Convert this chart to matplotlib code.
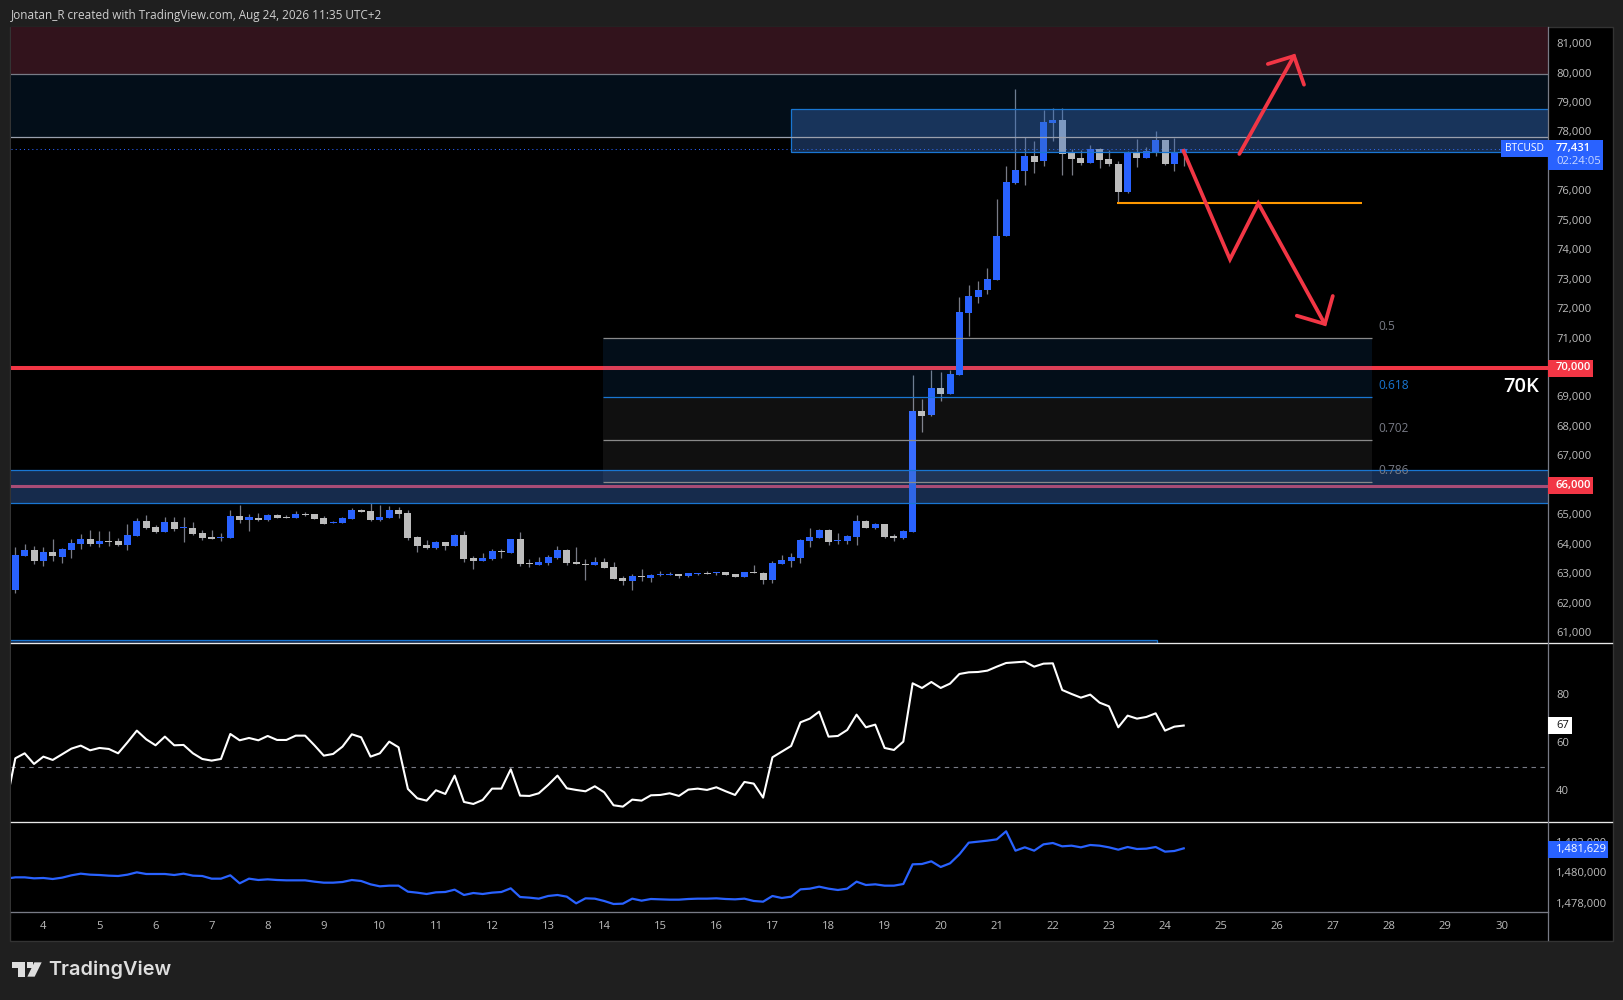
import numpy as np
import matplotlib
matplotlib.use("Agg")
import matplotlib.pyplot as plt
from matplotlib.patches import Rectangle, Polygon
from matplotlib.lines import Line2D
from matplotlib.transforms import ScaledTranslation

plt.rcParams['font.family'] = ['Open Sans', 'DejaVu Sans']

# ---------- data ----------
highs = [63910,64020,63940,63910,64190,63880,64190,64360,64500,64470,64470,64230,64700,64910,65010,64670,64940,64940,64940,64770,
 64500,64500,64400,65180,65350,65040,65080,65040,65040,65010,65140,65110,65040,64970,64800,64940,65250,65210,65400,65350,
 65310,65280,65180,64300,64160,64130,64090,64360,64470,63620,63720,63850,63850,64190,64430,63510,63580,63650,63950,63850,
 63920,63510,63580,63550,63410,62940,63000,63170,63000,63110,63070,63000,63040,63040,63110,63070,63070,63000,63070,63310,
 63070,63450,63650,63720,64190,64570,64530,64530,64400,64330,65010,64840,64740,64700,64360,64500,69760,68950,69930,69860,
 69930,72410,72820,72950,73400,75740,76860,79470,77860,77710,78760,78830,78830,77440,77400,77570,77470,77400,77030,77370,
 77780,77500,78050,77740,77810,77470]
lows = [62370,63620,63350,63280,63450,63380,63550,63850,63950,63920,63950,63950,63820,64300,64530,64400,64430,64470,64090,64330,
 64160,64190,64130,64230,64740,64470,64800,64800,64910,64910,64910,64970,64870,64700,64740,64740,64870,65110,64800,64800,
 64910,64910,64160,63750,63850,63850,63820,63950,63410,63170,63450,63480,63550,63720,63280,63240,63310,63310,63510,63310,
 63340,62800,63310,63210,62830,62630,62460,62770,62730,62940,62970,62870,62900,62970,63000,62970,62970,62900,62900,63040,
 62660,62700,63340,63240,63380,63920,64230,63990,64020,64020,63990,64570,64530,64230,64130,64190,64430,67830,68370,68880,
 69120,69760,71090,72210,72510,72990,74480,76250,76210,76620,76860,77710,76550,76550,76890,76960,76790,76860,75600,75940,
 76820,77130,77200,76890,76690,76860]
opens = [62470,63620,63820,63450,63750,63580,63820,64020,64190,64020,64130,64130,63990,64300,64800,64600,64430,64770,64570,64570,
 64400,64260,64230,64230,64970,64840,64910,64840,65010,64940,64910,65040,65040,64910,64740,64740,64870,65180,65140,64840,
 64910,65180,65080,64260,63990,63890,64090,63950,64330,63550,63450,63510,63790,63720,64190,63380,63310,63380,63550,63820,
 63410,63340,63310,63410,63240,62870,62770,62940,62870,62970,62970,63000,62940,63000,63040,63040,63070,63000,62900,63070,
 63040,62800,63340,63450,63550,64130,64230,64500,64130,64130,64260,64800,64570,64700,64300,64230,64430,68540,68400,69320,
 69120,69760,71870,72410,72650,72990,74480,76280,76690,77200,77030,78320,78420,77300,77130,76960,77440,77100,76930,75980,
 77300,77130,77330,77740,76930,77330]
closes = [63650,63820,63450,63750,63620,63850,64060,64190,64020,64130,64090,63990,64330,64800,64570,64430,64770,64530,64600,64360,
 64230,64190,64260,64970,64840,64940,64840,65010,64910,64910,65040,65010,64870,64700,64770,64910,65180,65110,64840,64940,
 65180,65040,64230,63960,63890,64090,63950,64330,63510,63450,63550,63790,63750,64190,63340,63340,63410,63580,63820,63380,
 63340,63310,63410,63210,62830,62770,62940,62900,62970,63000,63000,62940,63040,63040,63000,63070,62970,62900,63070,63040,
 62800,63380,63480,63580,64160,64260,64500,64090,64160,64300,64800,64570,64700,64260,64230,64470,68540,68370,69320,69120,
 69800,71900,72440,72650,73020,74480,76320,76720,77200,76990,78350,78420,77270,77100,76960,77440,77060,76930,75980,77300,
 77130,77370,77740,76930,77300,77431]

rsi = [34.3,53.75,55.83,51.39,54.44,53.06,55.42,57.78,59.03,57.08,58.06,57.64,55.83,60.42,65.28,61.67,59.17,62.78,59.17,59.31,
 55.83,53.47,52.78,53.47,63.89,61.25,62.22,61.25,63.06,61.39,61.39,63.19,63.19,59.17,54.86,55.56,58.61,63.75,62.5,54.44,
 55.83,60.69,58.33,40.97,37.08,36.11,40.42,38.89,46.53,35.56,34.72,36.39,41.11,41.11,49.17,38.19,38.06,39.17,42.64,46.53,
 41.25,40.56,40.0,42.08,39.58,34.17,33.61,36.53,36.11,38.33,38.47,39.17,38.06,40.69,41.11,40.56,41.67,40.0,38.47,43.89,
 43.19,37.36,54.17,56.53,58.89,68.75,70.28,73.19,62.78,63.06,65.56,71.94,66.67,67.78,58.06,57.22,60.69,85.0,83.06,85.56,
 83.06,84.86,88.89,89.58,89.72,90.28,91.94,93.47,93.75,94.03,91.94,93.19,93.33,82.22,80.56,79.03,80.28,76.94,75.42,66.67,
 71.53,70.28,70.97,72.5,65.28,66.94,67.4]

obv = [1479652,1479739,1479739,1479674,1479696,1479630,1479717,1479870,1479978,1479913,1479891,1479848,1479826,1479913,1480065,1479957,1479957,1479957,1479891,1479978,
 1479848,1479826,1479652,1479652,1479870,1479348,1479652,1479565,1479609,1479565,1479543,1479543,1479543,1479457,1479391,1479391,1479435,1479565,1479500,1479283,
 1479152,1479196,1479196,1478804,1478739,1478652,1478761,1478783,1478935,1478587,1478717,1478652,1478739,1478783,1479022,1478456,1478413,1478348,1478522,1478587,
 1478478,1478043,1478370,1478348,1478196,1478000,1478022,1478348,1478217,1478326,1478304,1478283,1478283,1478326,1478348,1478348,1478370,1478326,1478304,1478348,
 1478196,1478152,1478522,1478391,1478478,1478956,1479000,1479130,1479000,1478913,1479000,1479457,1479239,1479283,1479196,1479196,1479304,1480587,1480609,1480783,
 1480413,1480652,1481239,1482000,1482065,1482131,1482217,1482739,1481478,1481696,1481478,1481891,1481978,1481761,1481804,1481696,1481848,1481804,1481696,1481543,
 1481717,1481587,1481609,1481717,1481413,1481457,1481629]

day_labels = list(range(4, 31))
day_ticks = [3 + 6 * (d - 4) for d in day_labels]
price_ticks = [61000,62000,63000,64000,65000,67000,68000,69000,71000,72000,73000,74000,75000,76000,78000,79000,80000,81000]
rsi_ticks = [40, 60, 80]
obv_ticks = [1478000, 1480000, 1482000]

last_price = 77431
round_levels = [70000, 66000]
round_widths = [2.9, 2.2]
red_zone = [80000, 82000]
navy_band = [77850, 80000]
supply_zone = [83, 77330, 78795]
demand_zone = [65400, 66520]
bottom_zone = [122.1, 60764]
fib_span = [62.87, 145.1]
fib_levels = [71008, 69005, 67545, 66120]
fib_names = ['0.5', '0.618', '0.702', '0.786']
orange_level = [117.9, 144.1, 75603]
arrow_up_x = [130.95, 136.8]
arrow_up_y = [77267, 80594]
arrow_up_head_x = [134.0, 136.8, 137.87]
arrow_up_head_y = [80323, 80594, 79620]
arrow_dn_x = [124.96, 129.95, 132.98, 140.1]
arrow_dn_y = [77379, 73691, 75593, 71494]
arrow_dn_head_x = [137.1, 140.1, 140.95]
arrow_dn_head_y = [71776, 71494, 72445]

# ---------- layout ----------
W, H = 1623, 1000
BLUE, GRAY, WICK, RED = '#2962ff', '#bcbcbc', '#787b86', '#f23645'
LBL = '#bdbdbd'
fig = plt.figure(figsize=(W / 100, H / 100), dpi=100, facecolor='#1f1f1f')
L, R = 10.7, 1547.5
XL = (-0.495, 163.92)

def fx(x): return x / W
def fy(y): return 1 - y / H

fig.add_artist(Rectangle((fx(10), fy(940.5)), (1612.5 - 10) / W, (940.5 - 26.5) / H, transform=fig.transFigure,
                         facecolor='#000000', edgecolor='#333333', lw=1, zorder=-5))

def pane(top, bot, ylim, ticks, fmt):
    a = fig.add_axes([fx(L), fy(bot), (R - L) / W, (bot - top) / H], facecolor='black')
    a.set_xlim(*XL); a.set_ylim(*ylim)
    for s in a.spines.values():
        s.set_visible(False)
    a.yaxis.tick_right()
    a.set_yticks(ticks); a.set_yticklabels([fmt(t) for t in ticks])
    a.tick_params(axis='y', length=0, pad=6.2, labelsize=8.1, labelcolor=LBL)
    a.set_xticks([])
    shift = ScaledTranslation(0, 1 / 100, fig.dpi_scale_trans)
    for t in a.get_yticklabels():
        t.set_transform(t.get_transform() + shift)
    return a

comma = lambda v: f'{v:,}'
ax = pane(27, 643, (60662, 81579), price_ticks, comma)
ax2 = pane(643, 822, (27.2, 101.8), rsi_ticks, str)
ax3 = pane(822, 912, (1477478, 1483348), obv_ticks, comma)

ax3.set_xticks(day_ticks); ax3.set_xticklabels([str(d) for d in day_labels])
ax3.tick_params(axis='x', length=0, pad=6.2, labelsize=8.1, labelcolor=LBL)

# ---------- main pane ----------
idx = np.arange(len(closes))
o, c, hi, lo = map(np.array, (opens, closes, highs, lows))
up = c >= o
ax.vlines(idx, lo, hi, color=WICK, lw=0.9, zorder=2)
ax.bar(idx, np.maximum(np.abs(c - o), 30), bottom=np.minimum(o, c), width=0.75,
       color=[BLUE if u else GRAY for u in up], linewidth=0, zorder=2.5)

for lv, lw in zip(round_levels, round_widths):
    ax.axhline(lv, color=RED, lw=lw, zorder=1.5)
ax.axhline(last_price, color=BLUE, lw=0.75, ls=(0, (1, 3)), zorder=1.6)

EDGE = '#1976d2'
ZONE = (57/255, 110/255, 192/255)
XA, XB = XL[0] - 5, XL[1] + 5
ax.axhspan(red_zone[0], red_zone[1], facecolor='#32131c', zorder=1, lw=0)
ax.axhspan(navy_band[0], navy_band[1], facecolor=(30/255, 144/255, 1), alpha=0.10, zorder=3, lw=0)
ax.axhline(red_zone[0], color='#787b86', lw=0.9, zorder=3.2)
ax.axhline(navy_band[0], color='#9aa0ae', lw=0.9, zorder=3.4)

ax.add_patch(Rectangle((supply_zone[0], supply_zone[1]), XB - supply_zone[0], supply_zone[2] - supply_zone[1],
                       facecolor=(*ZONE, 0.4), edgecolor=EDGE, lw=0.9, zorder=3.3))
ax.add_patch(Rectangle((XA, demand_zone[0]), XB - XA, demand_zone[1] - demand_zone[0],
                       facecolor=(*ZONE, 0.4), edgecolor=EDGE, lw=0.9, zorder=3.3))
ax.add_patch(Rectangle((XA, 60000), bottom_zone[0] - XA, bottom_zone[1] - 60000,
                       facecolor=(*ZONE, 0.4), edgecolor=EDGE, lw=0.9, zorder=3.3))

# fibonacci box
fx0, fx1 = fib_span
ax.fill_between(fib_span, fib_levels[1], fib_levels[0], facecolor=(30/255, 144/255, 1), alpha=0.10, lw=0, zorder=3)
ax.fill_between(fib_span, fib_levels[3], fib_levels[1], facecolor='white', alpha=0.065, lw=0, zorder=3)
fib_cols = ['#8a8a8a', EDGE, '#8a8a8a', '#8a8a8a']
txt_cols = ['#787b86', EDGE, '#787b86', '#787b86']
for lv, nm, lc, tc in zip(fib_levels, fib_names, fib_cols, txt_cols):
    ax.hlines(lv, fx0, fx1, color=lc, lw=0.9, zorder=3.4)
    ax.annotate(nm, (fx1, lv), xytext=(5, 8.4), textcoords='offset points', color=tc, fontsize=8.6,
                va='center', ha='left', zorder=6)

ax.hlines(orange_level[2], orange_level[0], orange_level[1], color='#ff9800', lw=1.5, zorder=4)
for xs, ys in ((arrow_up_x, arrow_up_y), (arrow_up_head_x, arrow_up_head_y),
               (arrow_dn_x, arrow_dn_y), (arrow_dn_head_x, arrow_dn_head_y)):
    ax.plot(xs, ys, color=RED, lw=2.7, solid_capstyle='round', solid_joinstyle='miter', zorder=5)

# ---------- RSI ----------
ax2.axhline(50, color='#787b86', lw=0.8, ls=(0, (4, 4)), zorder=1)
ax2.plot(np.arange(-1, len(rsi) - 1), rsi, color='white', lw=1.5, zorder=2)

# ---------- OBV ----------
ax3.plot(np.arange(-1, len(obv) - 1), obv, color=BLUE, lw=1.6, zorder=2)

# ---------- separators ----------
def hline(y, x0, x1, col, lw=1.0):
    fig.add_artist(Line2D([fx(x0), fx(x1)], [fy(y), fy(y)], color=col, lw=lw, zorder=5, transform=fig.transFigure))
hline(643.3, L, 1612, '#e8e8e8', 0.95)
hline(822.3, L, 1612, '#e8e8e8', 0.95)
hline(912.3, L, R, '#787b86', 0.95)
fig.add_artist(Line2D([fx(R), fx(R)], [fy(27), fy(940)], color='#787b86', lw=0.9, zorder=5, transform=fig.transFigure))

# ---------- tags ----------
def val_y(a, v):
    return H - a.transData.transform((0, v))[1]

def tag(x0, x1, y0, y1, col, lines):
    fig.add_artist(Rectangle((fx(x0), fy(y1)), (x1 - x0) / W, (y1 - y0) / H, transform=fig.transFigure,
                             facecolor=col, edgecolor='none', zorder=6))
    for (tx, ty, s, tc, fs, wt) in lines:
        fig.text(fx(tx), fy(ty), s, color=tc, fontsize=fs, fontweight=wt, va='center', ha='left', zorder=7)

for lv in round_levels:
    yy = val_y(ax, lv)
    tag(R, 1592.7, yy - 8.3, yy + 8.7, RED, [(1556, yy, comma(lv), 'white', 8.1, 'semibold')])
tag(R, 1602.7, 140, 170, BLUE, [(1556, 148, comma(last_price), 'white', 8.1, 'semibold'),
                                (1556, 161, '02:24:05', '#c9d8ff', 8.1, 'normal')])
tag(1501, R, 140, 157, BLUE, [(1505, 148.5, 'BTCUSD', 'white', 7.4, 'normal')])
tag(R, 1572, 717, 734, 'white', [(1556, 725.5, str(int(round(rsi[-1]))), '#111111', 8.1, 'normal')])
tag(R, 1608, 841, 858, BLUE, [(1556, 849.5, comma(obv[-1]), 'white', 8.1, 'normal')])

fig.text(fx(1503), fy(386.5), '70K', color='white', fontsize=14.5, fontweight='semibold', va='center', ha='left', zorder=7)

# ---------- header / footer ----------
fig.text(fx(10.5), fy(15), 'Jonatan_R created with TradingView.com, Aug 24, 2026 11:35 UTC+2', color='#cfcfcf',
         fontsize=8.5, va='center', ha='left')
LOGO = '#dedede'
def lpx(z): return (z[0] / 3, 930 + z[1] / 3)
for pts in ([(36, 97), (75, 97), (75, 140), (55, 140), (55, 115), (36, 115)],
            [(103, 97), (125, 97), (104, 140), (82, 140)]):
    fig.add_artist(Polygon([(fx(a), fy(b)) for a, b in map(lpx, pts)], closed=True, facecolor=LOGO, edgecolor='none',
                           transform=fig.transFigure))
ca, cb = lpx((91, 105))
fig.add_artist(Rectangle((fx(ca - 3), fy(cb + 3)), 6 / W, 6 / H, facecolor=LOGO, edgecolor='none', transform=fig.transFigure))
fig.text(fx(48.5), fy(970), 'TradingView', color=LOGO, fontsize=14.3, fontweight='semibold', va='center', ha='left',
         family=['Inter', 'Open Sans'])

fig.savefig('out.png', dpi=100, facecolor=fig.get_facecolor())
